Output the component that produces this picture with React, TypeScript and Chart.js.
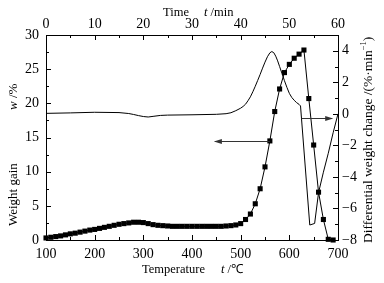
import { useEffect, useRef } from "react";
import { Chart, registerables } from "chart.js";

Chart.register(...registerables);

// ---- data ----
const gainTemps = [
  100, 110, 120, 130, 140, 150, 160, 170, 180, 190, 200, 210, 220, 230, 240, 250, 260, 270, 280, 290,
  300, 310, 320, 330, 340, 350, 360, 370, 380, 390, 400, 410, 420, 430, 440, 450, 460, 470, 480, 490,
  500, 510, 520, 530, 540, 550, 560, 570, 580, 590, 600, 610, 620, 630, 640, 650, 660, 670, 680, 690,
];
const weightGain = [
  0.3, 0.4, 0.5, 0.6, 0.75, 0.9, 1.0, 1.15, 1.3, 1.45, 1.55, 1.7, 1.85, 2.0, 2.15, 2.3, 2.4, 2.5, 2.6, 2.6,
  2.55, 2.4, 2.25, 2.15, 2.1, 2.05, 2.0, 2.0, 2.0, 2.0, 2.0, 2.0, 2.0, 2.0, 2.0, 2.0, 2.0, 2.05, 2.1, 2.2,
  2.4, 3.0, 3.8, 5.3, 7.5, 10.7, 14.5, 18.8, 22.1, 24.5, 25.7, 26.6, 27.2, 27.8, 20.7, 13.9, 7.0, 3.0, 0.1, 0.0,
];

const dtgTemps = [
  100, 150, 200, 250, 270, 280, 290, 300, 310, 320, 335, 350, 400, 450, 470, 480, 490, 500, 505, 510,
  515, 520, 525, 530, 535, 540, 545, 550, 555, 560, 564, 568, 572, 576, 580, 585, 590, 595, 600, 605,
  610, 615, 620, 623, 642, 652, 660, 670, 680, 690, 700,
];
const dtgValues = [
  0.03, 0.06, 0.1, 0.08, 0.02, -0.04, -0.11, -0.17, -0.2, -0.16, -0.1, -0.08, -0.06, -0.03, 0.01, 0.07, 0.2, 0.36, 0.47, 0.61,
  0.83, 1.08, 1.4, 1.75, 2.12, 2.5, 2.9, 3.28, 3.62, 3.87, 3.95, 3.88, 3.66, 3.36, 3.0, 2.55, 2.1, 1.68, 1.3, 1.04,
  0.86, 0.71, 0.6, 0.5, -7.05, -6.95, -5.0, -3.7, -2.5, -1.2, 0.0,
];

const tempTicks = [100, 200, 300, 400, 500, 600, 700];
const tempMinor = [150, 250, 350, 450, 550, 650];
const timeTicks = [0, 10, 20, 30, 40, 50, 60];
const timeMinor = [5, 15, 25, 35, 45, 55];
const gainTicks = [0, 5, 10, 15, 20, 25, 30];
const gainMinor = [2.5, 7.5, 12.5, 17.5, 22.5, 27.5];
const dtgTicks = [-8, -6, -4, -2, 0, 2, 4];
const dtgMinor = [-7, -5, -3, -1, 1, 3];

// arrows in data units: [xFrom, xTo, value]
const gainArrow = [560, 447, 14.5];
const dtgArrow = [625, 688, -0.27];

const SERIF = "'Liberation Serif', 'Times New Roman', serif";

const decorPlugin = {
  id: "decor",
  afterDraw(chart: any) {
    const ctx = chart.ctx as CanvasRenderingContext2D;
    const { x, x2, y, y2 } = chart.scales;
    const a = chart.chartArea;
    ctx.save();
    ctx.strokeStyle = "#000";
    ctx.lineWidth = 1;
    const MAJ = 5;
    const MIN = 3;
    const tickX = (scale: any, vals: number[], len: number) => {
      vals.forEach((v) => {
        const px = Math.round(scale.getPixelForValue(v)) + 0.5;
        ctx.beginPath();
        if (scale.position === "bottom") {
          ctx.moveTo(px, a.bottom);
          ctx.lineTo(px, a.bottom - len);
        } else {
          ctx.moveTo(px, a.top);
          ctx.lineTo(px, a.top + len);
        }
        ctx.stroke();
      });
    };
    const tickY = (scale: any, vals: number[], len: number) => {
      vals.forEach((v) => {
        const py = Math.round(scale.getPixelForValue(v)) + 0.5;
        ctx.beginPath();
        if (scale.position === "left") {
          ctx.moveTo(a.left, py);
          ctx.lineTo(a.left + len, py);
        } else {
          ctx.moveTo(a.right, py);
          ctx.lineTo(a.right - len, py);
        }
        ctx.stroke();
      });
    };
    tickX(x, tempTicks, MAJ);
    tickX(x, tempMinor, MIN);
    tickX(x2, timeTicks, MAJ);
    tickX(x2, timeMinor, MIN);
    tickY(y, gainTicks, MAJ);
    tickY(y, gainMinor, MIN);
    tickY(y2, dtgTicks, MAJ);
    tickY(y2, dtgMinor, MIN);

    // arrows
    const arrow = (x0: number, x1: number, py: number) => {
      ctx.strokeStyle = "#333";
      ctx.fillStyle = "#333";
      ctx.lineWidth = 1;
      const yy = Math.round(py) + 0.5;
      ctx.beginPath();
      ctx.moveTo(x0, yy);
      ctx.lineTo(x1, yy);
      ctx.stroke();
      const dir = x1 > x0 ? 1 : -1;
      ctx.beginPath();
      ctx.moveTo(x1 + dir * 1, yy);
      ctx.lineTo(x1 - dir * 7, yy - 2.5);
      ctx.lineTo(x1 - dir * 7, yy + 2.5);
      ctx.closePath();
      ctx.fill();
    };
    arrow(x.getPixelForValue(gainArrow[0]), x.getPixelForValue(gainArrow[1]), y.getPixelForValue(gainArrow[2]));
    arrow(x.getPixelForValue(dtgArrow[0]), x.getPixelForValue(dtgArrow[1]), y2.getPixelForValue(dtgArrow[2]));

    // titles
    ctx.fillStyle = "#000";
    ctx.textBaseline = "middle";
    ctx.textAlign = "left";
    const normal = (s: number) => `${s}px ${SERIF}`;
    const italic = (s: number) => `italic ${s}px ${SERIF}`;
    const segs = (parts: [string, string][], sx: number, sy: number) => {
      let cx = sx;
      parts.forEach(([t, f]) => {
        ctx.font = f;
        ctx.fillText(t, cx, sy);
        cx += ctx.measureText(t).width;
      });
    };
    // bottom
    segs([["Temperature", normal(12.5)]], 142, 270);
    segs([["t", italic(12.5)], [" /\u2103", normal(12.5)]], 221, 270);
    // top
    segs([["Time", normal(12.5)]], 163, 13);
    segs([["t", italic(12.5)], [" /min", normal(12.5)]], 204, 13);
    // left
    ctx.save();
    ctx.translate(14, 0);
    ctx.rotate(-Math.PI / 2);
    segs([["Weight gain", normal(13)]], -226, 0);
    segs([["w", italic(13)], [" /%", normal(13)]], -110, 0);
    ctx.restore();
    // right
    ctx.save();
    ctx.translate(368, 0);
    ctx.rotate(-Math.PI / 2);
    ctx.font = normal(13.5);
    const main = "Differential weight change /(%\u00b7min";
    let cx = -243;
    ctx.fillText(main, cx, 0);
    cx += ctx.measureText(main).width;
    ctx.font = normal(8.5);
    ctx.fillText("\u22121", cx, -4);
    cx += ctx.measureText("\u22121").width;
    ctx.font = normal(13.5);
    ctx.fillText(")", cx, 0);
    ctx.restore();

    ctx.restore();
  },
};

export default function App() {
  const ref = useRef<HTMLCanvasElement | null>(null);
  useEffect(() => {
    document.body.style.margin = "0";
    if (!ref.current) return;
    const tickFont = { family: SERIF, size: 14 };
    const fixTicks = (vals: number[]) => (s: any) => {
      s.ticks = vals.map((v) => ({ value: v }));
    };
    const chart = new Chart(ref.current, {
      type: "line",
      data: {
        datasets: [
          {
            label: "Weight gain",
            data: gainTemps.map((t, i) => ({ x: t, y: weightGain[i] })),
            xAxisID: "x",
            yAxisID: "y",
            borderColor: "#000",
            borderWidth: 1,
            backgroundColor: "#000",
            pointStyle: "rect",
            pointRadius: 3.6,
            pointBorderWidth: 0,
            pointBackgroundColor: "#000",
            clip: 8,
          } as any,
          {
            label: "Differential weight change",
            data: dtgTemps.map((t, i) => ({ x: t, y: dtgValues[i] })),
            xAxisID: "x",
            yAxisID: "y2",
            borderColor: "#000",
            borderWidth: 1,
            pointRadius: 0,
            tension: 0,
            clip: 8,
          } as any,
        ],
      },
      options: {
        animation: false,
        responsive: false,
        devicePixelRatio: 1,
        layout: { padding: 0 },
        plugins: { legend: { display: false }, tooltip: { enabled: false } },
        scales: {
          x: {
            type: "linear",
            position: "bottom",
            min: 100,
            max: 700,
            afterBuildTicks: fixTicks(tempTicks),
            afterFit: (s: any) => {
              s.height = 43;
            },
            grid: { display: false, drawTicks: false },
            border: { display: true, color: "#000", width: 1 },
            ticks: { font: tickFont, color: "#000", padding: 6, maxRotation: 0 },
          },
          x2: {
            type: "linear",
            position: "top",
            min: 0,
            max: 60,
            afterBuildTicks: fixTicks(timeTicks),
            afterFit: (s: any) => {
              s.height = 35;
            },
            grid: { display: false, drawTicks: false },
            border: { display: true, color: "#000", width: 1 },
            ticks: { font: tickFont, color: "#000", padding: 2, maxRotation: 0 },
          },
          y: {
            type: "linear",
            position: "left",
            min: 0,
            max: 30,
            afterBuildTicks: fixTicks(gainTicks),
            afterFit: (s: any) => {
              s.width = 46;
            },
            grid: { display: false, drawTicks: false },
            border: { display: true, color: "#000", width: 1 },
            ticks: { font: tickFont, color: "#000", padding: 7 },
          },
          y2: {
            type: "linear",
            position: "right",
            min: -8,
            max: 5,
            afterBuildTicks: fixTicks(dtgTicks),
            afterFit: (s: any) => {
              s.width = 46;
            },
            grid: { display: false, drawTicks: false },
            border: { display: true, color: "#000", width: 1 },
            ticks: {
              font: tickFont,
              color: "#000",
              padding: 4,
              callback: (v: any) => String(v).replace("-", "\u2212"),
            },
          },
        },
      },
      plugins: [decorPlugin],
    } as any);
    return () => chart.destroy();
  }, []);
  return <canvas ref={ref} width={384} height={283} style={{ display: "block" }} />;
}
